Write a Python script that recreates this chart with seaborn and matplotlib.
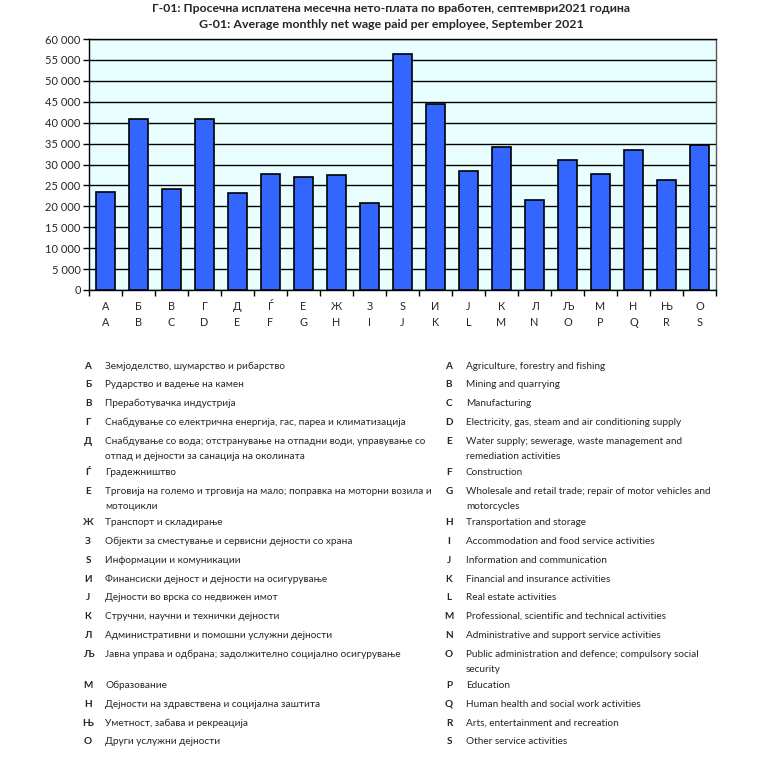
import matplotlib
matplotlib.use("Agg")
import matplotlib.pyplot as plt
import seaborn as sns
import pandas as pd
from matplotlib.ticker import FuncFormatter, FixedLocator

codes_mk = ["А", "Б", "В", "Г", "Д", "Ѓ", "Е", "Ж", "З", "Ѕ", "И", "Ј", "К", "Л", "Љ", "М", "Н", "Њ", "О"]
codes_en = ["A", "B", "C", "D", "E", "F", "G", "H", "I", "J", "K", "L", "M", "N", "O", "P", "Q", "R", "S"]
wages = [23400, 40950, 24200, 40900, 23100, 27700, 26900, 27450, 20700, 56300,
         44500, 28400, 34300, 21500, 31000, 27800, 33500, 26200, 34700]

desc_mk = [
    "Земјоделство, шумарство и рибарство",
    "Рударство и вадење на камен",
    "Преработувачка индустрија",
    "Снабдување со електрична енергија, гас, пареа и климатизација",
    "Снабдување со вода; отстранување на отпадни води, управување со\nотпад и дејности за санација на околината",
    "Градежништво",
    "Трговија на големо и трговија на мало; поправка на моторни возила и\nмотоцикли",
    "Транспорт и складирање",
    "Објекти за сместување и сервисни дејности со храна",
    "Информации и комуникации",
    "Финансиски дејност и дејности на осигурување",
    "Дејности во врска со недвижен имот",
    "Стручни, научни и технички дејности",
    "Административни и помошни услужни дејности",
    "Јавна управа и одбрана; задолжително социјално осигурување",
    "Образование",
    "Дејности на здравствена и социјална заштита",
    "Уметност, забава и рекреација",
    "Други услужни дејности",
]
desc_en = [
    "Agriculture, forestry and fishing",
    "Mining and quarrying",
    "Manufacturing",
    "Electricity, gas, steam and air conditioning supply",
    "Water supply; sewerage, waste management and\nremediation activities",
    "Construction",
    "Wholesale and retail trade; repair of motor vehicles and\nmotorcycles",
    "Transportation and storage",
    "Accommodation and food service activities",
    "Information and communication",
    "Financial and insurance activities",
    "Real estate activities",
    "Professional, scientific and technical activities",
    "Administrative and support service activities",
    "Public administration and defence; compulsory social\nsecurity",
    "Education",
    "Human health and social work activities",
    "Arts, entertainment and recreation",
    "Other service activities",
]

title_mk = "Г-01: Просечна исплатена месечна нето-плата по вработен, септември2021 година"
title_en = "G-01: Average monthly net wage paid per employee, September 2021"

sns.set_theme(style="white")
plt.rcParams["font.family"] = ["Lato", "DejaVu Sans"]

W, H = 783, 763
fig = plt.figure(figsize=(W / 100, H / 100), dpi=100)
ax = fig.add_axes([89 / W, 1 - 290 / H, (716 - 89) / W, (290 - 39) / H])

df = pd.DataFrame({"cat": [f"{a}\n{b}" for a, b in zip(codes_mk, codes_en)], "wage": wages})
sns.barplot(data=df, x="cat", y="wage", ax=ax, color="#3366FF", saturation=1,
            width=0.6, edgecolor="black", linewidth=1.2, zorder=3)

ax.set_facecolor("#E9FFFF")
ax.set_ylim(0, 60000)
ax.set_xlim(-0.5, len(wages) - 0.5)
ax.set_yticks(range(0, 60001, 5000))
ax.yaxis.set_major_formatter(FuncFormatter(lambda v, p: f"{int(v):,}".replace(",", " ")))
ax.grid(axis="y", color="black", linewidth=1, zorder=0)
ax.set_axisbelow(True)
ax.set_xlabel("")
ax.set_ylabel("")
for s in ax.spines.values():
    s.set_visible(True)
    s.set_color("black")
    s.set_linewidth(1)
ax.spines["right"].set_color("#555555")

ax.tick_params(axis="y", labelsize=8, length=4, width=1, color="black", direction="out", left=True, pad=2)
ax.tick_params(axis="x", which="major", labelsize=7.8, length=0, pad=8)
ax.xaxis.set_minor_locator(FixedLocator([i - 0.5 for i in range(len(wages) + 1)]))
ax.tick_params(axis="x", which="minor", length=4, width=1, color="black", direction="out", bottom=True)
for lbl in ax.get_xticklabels():
    lbl.set_linespacing(1.55)

fig.text(391 / W, 1 - 8 / H, title_mk, ha="center", va="center", fontsize=8.8, fontweight="bold")
fig.text(391 / W, 1 - 24 / H, title_en, ha="center", va="center", fontsize=8.9, fontweight="bold")

# legend listings
fs = 7.2
for i in range(len(codes_mk)):
    extra = sum(d.count("\n") for d in desc_en[:i])
    y = 366 + 18.8 * i + 12.5 * extra
    fig.text(88 / W, 1 - y / H, codes_mk[i], ha="center", va="center", fontsize=fs, fontweight="bold")
    for j, line in enumerate(desc_mk[i].split("\n")):
        fig.text(105 / W, 1 - (y + 15 * j) / H, line, ha="left", va="center", fontsize=fs)
    fig.text(449 / W, 1 - y / H, codes_en[i], ha="center", va="center", fontsize=fs, fontweight="bold")
    for j, line in enumerate(desc_en[i].split("\n")):
        fig.text(466 / W, 1 - (y + 15 * j) / H, line, ha="left", va="center", fontsize=fs)

fig.savefig("out.png", dpi=100, facecolor="white")
